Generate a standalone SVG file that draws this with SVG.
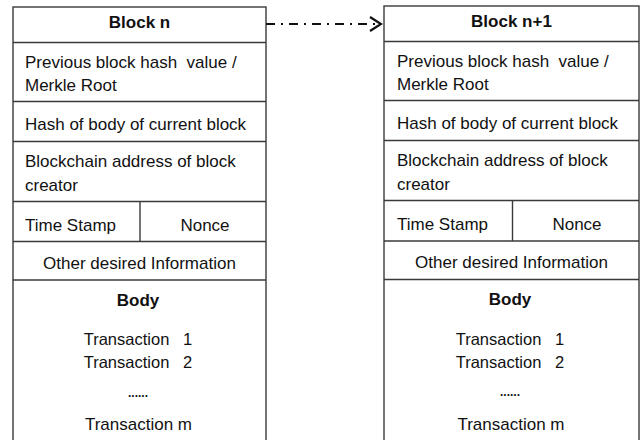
<svg xmlns="http://www.w3.org/2000/svg" width="641" height="440" viewBox="0 0 641 440">
<defs>
<style>
.box{fill:#fff;stroke:#3a3a3a;stroke-width:1.4}
.ln{stroke:#3a3a3a;stroke-width:1.4;fill:none}
.t{font-family:"Liberation Sans",Arial,sans-serif;font-size:17px;fill:#111}
.b{font-weight:bold}
.m{text-anchor:middle}
.tx{font-size:16.5px}
.dots{font-size:12px;font-weight:bold}
.conn{stroke:#111;stroke-width:2;fill:none}
</style>
<marker id="arr" markerWidth="14" markerHeight="16" refX="12" refY="8" orient="auto" markerUnits="userSpaceOnUse">
<path d="M1,1 L12,8 L1,15" fill="none" stroke="#111" stroke-width="2.2"/>
</marker>
</defs>
<rect width="641" height="440" fill="#fff"/>

<g id="block-n">
<rect class="box" x="13" y="7" width="253" height="440"/>
<line class="ln" x1="13" y1="42.5" x2="266" y2="42.5"/>
<line class="ln" x1="13" y1="101.5" x2="266" y2="101.5"/>
<line class="ln" x1="13" y1="141.5" x2="266" y2="141.5"/>
<line class="ln" x1="13" y1="201.5" x2="266" y2="201.5"/>
<line class="ln" x1="13" y1="241.5" x2="266" y2="241.5"/>
<line class="ln" x1="13" y1="280" x2="266" y2="280"/>
<line class="ln" x1="140" y1="201.5" x2="140" y2="241.5"/>
<text class="t b m" x="139.5" y="28">Block n</text>
<text class="t" x="25" y="68" xml:space="preserve">Previous block hash  value /</text>
<text class="t" x="25" y="91">Merkle Root</text>
<text class="t" x="25" y="129.5">Hash of body of current block</text>
<text class="t" x="25" y="167">Blockchain address of block</text>
<text class="t" x="25" y="190.5">creator</text>
<text class="t" x="25" y="230.5">Time Stamp</text>
<text class="t m" x="205" y="230.5">Nonce</text>
<text class="t m" x="139.5" y="268.5">Other desired Information</text>
<text class="t b m" x="138" y="305.5">Body</text>
<text class="t tx m" x="138" y="345" xml:space="preserve">Transaction   1</text>
<text class="t tx m" x="138" y="368" xml:space="preserve">Transaction   2</text>
<text class="t dots m" x="138" y="397">......</text>
<text class="t m" x="138.5" y="430">Transaction m</text>
</g>

<g id="block-n1">
<rect class="box" x="384" y="6" width="255" height="440"/>
<line class="ln" x1="384" y1="41.5" x2="639" y2="41.5"/>
<line class="ln" x1="384" y1="100.5" x2="639" y2="100.5"/>
<line class="ln" x1="384" y1="140.5" x2="639" y2="140.5"/>
<line class="ln" x1="384" y1="200.5" x2="639" y2="200.5"/>
<line class="ln" x1="384" y1="241" x2="639" y2="241"/>
<line class="ln" x1="384" y1="279.5" x2="639" y2="279.5"/>
<line class="ln" x1="512.5" y1="200.5" x2="512.5" y2="241"/>
<text class="t b m" x="511.5" y="27">Block n+1</text>
<text class="t" x="397" y="67" xml:space="preserve">Previous block hash  value /</text>
<text class="t" x="397" y="90">Merkle Root</text>
<text class="t" x="397" y="128.5">Hash of body of current block</text>
<text class="t" x="397" y="166">Blockchain address of block</text>
<text class="t" x="397" y="190">creator</text>
<text class="t" x="397" y="230">Time Stamp</text>
<text class="t m" x="577" y="230">Nonce</text>
<text class="t m" x="511.5" y="268">Other desired Information</text>
<text class="t b m" x="510" y="305">Body</text>
<text class="t tx m" x="510" y="345" xml:space="preserve">Transaction   1</text>
<text class="t tx m" x="510" y="368" xml:space="preserve">Transaction   2</text>
<text class="t dots m" x="510" y="396">......</text>
<text class="t m" x="511" y="430">Transaction m</text>
</g>

<g id="connectors">
<line class="conn" x1="266" y1="24" x2="381" y2="24" stroke-dasharray="9 6 2 6" marker-end="url(#arr)"/>
</g>
</svg>
